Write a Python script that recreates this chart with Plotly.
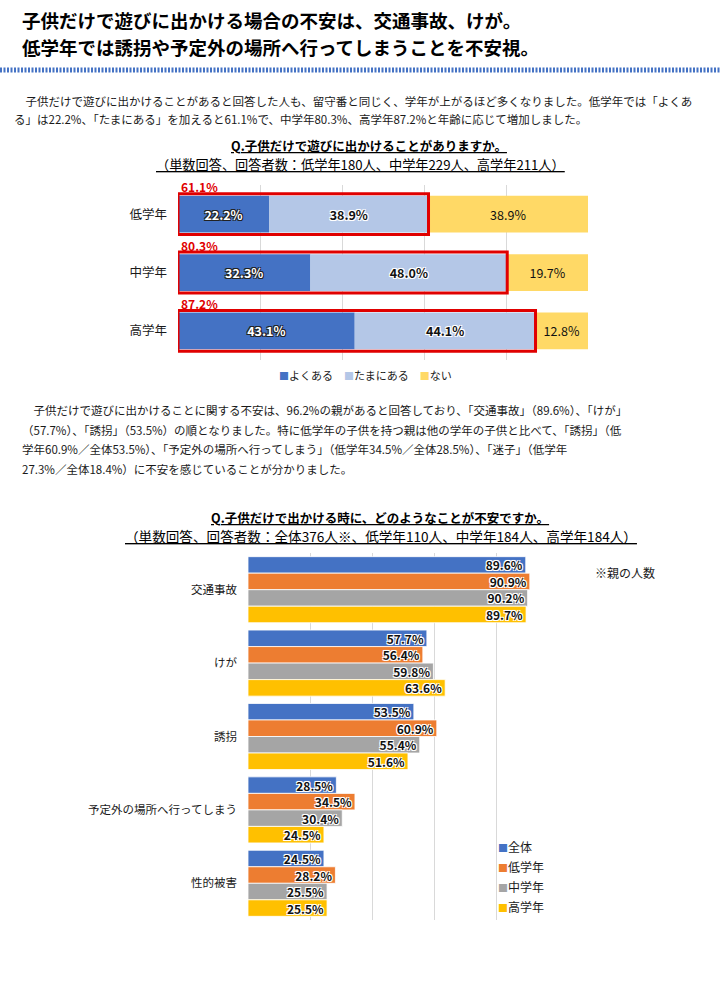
import plotly.graph_objects as go

W, H = 720, 994

# ---------------- data: chart 1 ----------------
grades = ["低学年", "中学年", "高学年"]
often = [22.2, 32.3, 43.1]
sometimes = [38.9, 48.0, 44.1]
never = [38.9, 19.7, 12.8]
any_total = [61.1, 80.3, 87.2]
series1_names = ["よくある", "たまにある", "ない"]

# ---------------- data: chart 2 ----------------
worries = ["交通事故", "けが", "誘拐", "予定外の場所へ行ってしまう", "性的被害"]
s_all = [89.6, 57.7, 53.5, 28.5, 24.5]
s_low = [90.9, 56.4, 60.9, 34.5, 28.2]
s_mid = [90.2, 59.8, 55.4, 30.4, 25.5]
s_high = [89.7, 63.6, 51.6, 24.5, 25.5]
series2_names = ["全体", "低学年", "中学年", "高学年"]

# ---------------- texts ----------------
title_lines = ["子供だけで遊びに出かける場合の不安は、交通事故、けが。",
               "低学年では誘拐や予定外の場所へ行ってしまうことを不安視。"]
para1 = ["　子供だけで遊びに出かけることがあると回答した人も、留守番と同じく、学年が上がるほど多くなりました。低学年では「よくあ",
         "る」は22.2%、「たまにある」を加えると61.1%で、中学年80.3%、高学年87.2%と年齢に応じて増加しました。"]
para2 = ["　子供だけで遊びに出かけることに関する不安は、96.2%の親があると回答しており、「交通事故」（89.6%）、「けが」",
         "（57.7%）、「誘拐」（53.5%）の順となりました。特に低学年の子供を持つ親は他の学年の子供と比べて、「誘拐」（低",
         "学年60.9%／全体53.5%）、「予定外の場所へ行ってしまう」（低学年34.5%／全体28.5%）、「迷子」（低学年",
         "27.3%／全体18.4%）に不安を感じていることが分かりました。"]
c1_title = "Q.子供だけで遊びに出かけることがありますか。"
c1_sub = "（単数回答、回答者数：低学年180人、中学年229人、高学年211人）"
c2_title = "Q.子供だけで出かける時に、どのようなことが不安ですか。"
c2_sub = "（単数回答、回答者数：全体376人※、低学年110人、中学年184人、高学年184人）"
c2_note = "※親の人数"

FONT = "Noto Sans CJK JP, Noto Sans, sans-serif"
TXT = "#1a1a1a"


def px(x):
    return x / W


def py(y):
    return 1 - y / H


WHITE_GLOW = "-1px -1px 0 #fff, 1px -1px 0 #fff, -1px 1px 0 #fff, 1px 1px 0 #fff, 0 0 2px #fff"
DARK_GLOW = "-1px -1px 0 #222, 1px -1px 0 #222, -1px 1px 0 #222, 1px 1px 0 #222"

fig = go.Figure()

# ---------------- chart 1 (stacked via base) ----------------
c1_colors = ["#4472C4", "#B4C7E7", "#FFD966"]
c1_fonts = [
    dict(color="white", size=12.5, weight="bold", shadow=DARK_GLOW, family=FONT),
    dict(color="#111", size=12.5, weight="bold", shadow=WHITE_GLOW, family=FONT),
    dict(color="#111", size=12.5, family=FONT),
]
cum = [0.0] * len(grades)
for name, vals, col, tf in zip(series1_names, [often, sometimes, never], c1_colors, c1_fonts):
    fig.add_bar(
        y=grades, x=vals, base=cum[:], orientation="h", name=name,
        marker=dict(color=col, line=dict(width=0)),
        width=0.63, offset=-0.315,
        text=[f"{v:.1f}%" for v in vals], textposition="inside",
        insidetextanchor="middle", constraintext="none", textangle=0,
        textfont=tf, xaxis="x", yaxis="y", showlegend=False, hoverinfo="skip",
    )
    cum = [c + v for c, v in zip(cum, vals)]

# ---------------- chart 2 (grouped via explicit offsets) ----------------
c2_colors = ["#4472C4", "#ED7D31", "#A5A5A5", "#FFC000"]
bw = 0.225
for k, (name, vals, col) in enumerate(zip(series2_names, [s_all, s_low, s_mid, s_high], c2_colors)):
    fig.add_bar(
        y=worries, x=vals, orientation="h", name=name,
        marker=dict(color=col, line=dict(width=0.8, color="white")),
        width=bw, offset=-2 * bw + k * bw,
        text=[f"{v:.1f}%" for v in vals], textposition="inside",
        insidetextanchor="end", constraintext="none", textangle=0,
        textfont=dict(color="#111", size=12, weight="bold", shadow=WHITE_GLOW, family=FONT),
        xaxis="x2", yaxis="y2", showlegend=False, hoverinfo="skip",
    )

annotations = []
for i, t in enumerate(title_lines):
    annotations.append(dict(text=t, x=px(20), y=py(20 + 27 * i), xref="paper", yref="paper",
                            xanchor="left", yanchor="middle", showarrow=False,
                            font=dict(size=18.5, color="#000", family=FONT, weight="bold")))
for i, t in enumerate(para1):
    annotations.append(dict(text=t, x=px(12), y=py(101 + 18 * i), xref="paper", yref="paper",
                            xanchor="left", yanchor="middle", showarrow=False,
                            font=dict(size=11.5, color=TXT, family=FONT)))
for i, t in enumerate(para2):
    annotations.append(dict(text=t, x=px(20), y=py(410 + 19.5 * i), xref="paper", yref="paper",
                            xanchor="left", yanchor="middle", showarrow=False,
                            font=dict(size=11.5, color=TXT, family=FONT)))
annotations += [
    dict(text=f"<u>{c1_title}</u>", x=px(369), y=py(146), xref="paper", yref="paper",
         xanchor="center", yanchor="middle", showarrow=False,
         font=dict(size=12.5, color="#000", family=FONT, weight="bold")),
    dict(text=f"<u>{c1_sub}</u>", x=px(360), y=py(164.5), xref="paper", yref="paper",
         xanchor="center", yanchor="middle", showarrow=False,
         font=dict(size=13.2, color="#000", family=FONT)),
    dict(text=f"<u>{c2_title}</u>", x=px(380), y=py(517), xref="paper", yref="paper",
         xanchor="center", yanchor="middle", showarrow=False,
         font=dict(size=12.5, color="#000", family=FONT, weight="bold")),
    dict(text=f"<u>{c2_sub}</u>", x=px(381), y=py(536), xref="paper", yref="paper",
         xanchor="center", yanchor="middle", showarrow=False,
         font=dict(size=13.6, color="#000", family=FONT)),
    dict(text=c2_note, x=px(593), y=py(572), xref="paper", yref="paper",
         xanchor="left", yanchor="middle", showarrow=False,
         font=dict(size=12, color=TXT, family=FONT)),
]
for i, tot in enumerate(any_total):
    annotations.append(dict(text=f"{tot:.1f}%", x=0, y=i - 0.47, xref="x", yref="y",
                            xanchor="left", yanchor="middle", showarrow=False, xshift=1,
                            font=dict(size=12, color="#E00000", family=FONT, weight="bold")))

# legends drawn as text keys
SQ = "<span style='color:{c};font-size:10px'>■</span>{n}"
leg1 = "　".join(SQ.format(c=c, n=n) for c, n in zip(c1_colors, series1_names))
annotations.append(dict(text=leg1, x=px(365), y=py(375), xref="paper", yref="paper",
                        xanchor="center", yanchor="middle", showarrow=False,
                        font=dict(size=11, color=TXT, family=FONT)))
for k, (c, n) in enumerate(zip(c2_colors, series2_names)):
    annotations.append(dict(text=SQ.format(c=c, n=n), x=px(496), y=py(846 + 20 * k),
                            xref="paper", yref="paper", xanchor="left", yanchor="middle",
                            showarrow=False, font=dict(size=12, color=TXT, family=FONT)))

shapes = [
    dict(type="line", xref="paper", yref="paper", x0=0, x1=1, y0=py(70), y1=py(70),
         line=dict(color="#4472C4", width=5, dash="2px,1.5px")),
]
for i, tot in enumerate(any_total):
    shapes.append(dict(type="rect", xref="x", yref="y", x0=0, x1=tot, y0=i - 0.35, y1=i + 0.35,
                       line=dict(color="#E00000", width=3), fillcolor="rgba(0,0,0,0)", layer="above"))

grid = "#D9D9D9"
fig.update_layout(
    width=W, height=H, margin=dict(l=0, r=0, t=0, b=0),
    paper_bgcolor="white", plot_bgcolor="white",
    barmode="overlay", showlegend=False,
    font=dict(family=FONT, color=TXT),
    xaxis=dict(domain=[px(178), px(588)], range=[0, 100], dtick=20, showgrid=True, gridcolor=grid,
               gridwidth=1, zeroline=False, showticklabels=False, anchor="y", fixedrange=True),
    yaxis=dict(domain=[py(360), py(185)], type="category", categoryorder="array", categoryarray=grades,
               range=[2.5, -0.5], showgrid=False, zeroline=False, ticks="", ticklabelstandoff=10,
               tickfont=dict(size=12.5, color=TXT, family=FONT), anchor="x", fixedrange=True),
    xaxis2=dict(domain=[px(248), px(558)], range=[0, 100], dtick=20, showgrid=True, gridcolor=grid,
                gridwidth=1, zeroline=False, showticklabels=False, anchor="y2", fixedrange=True),
    yaxis2=dict(domain=[py(920), py(553)], type="category", categoryorder="array", categoryarray=worries,
                range=[4.5, -0.5], showgrid=False, zeroline=False, ticks="", ticklabelstandoff=10,
                tickfont=dict(size=11.5, color=TXT, family=FONT), anchor="x2", fixedrange=True),
    annotations=annotations, shapes=shapes,
)

fig.write_html("out.html", config={"displayModeBar": False},
               post_script="document.body.style.margin='0';document.body.style.overflow='hidden';")
